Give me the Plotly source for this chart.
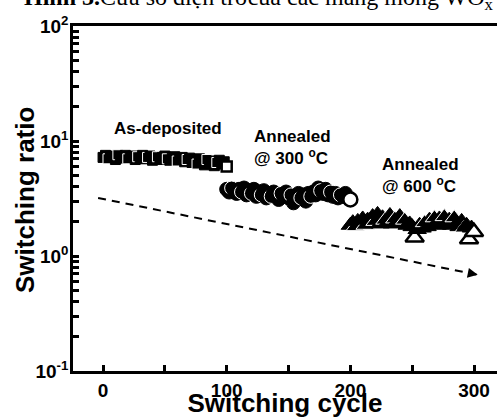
import plotly.graph_objects as go
import math

# ---- data ----
cycles_asdep = list(range(0, 101, 2))
ratio_asdep = [7.2, 7.5, 7.0, 7.4, 7.3, 6.9, 7.6, 7.1, 7.3, 7.5,
               7.0, 7.2, 7.4, 6.9, 7.3, 7.1, 7.5, 7.0, 7.2, 7.4,
               6.8, 7.1, 7.3, 6.9, 7.2, 7.4, 7.0, 6.8, 7.1, 7.3,
               6.7, 7.0, 7.2, 6.6, 6.9, 7.1, 6.5, 6.8, 6.3, 7.0,
               6.6, 6.2, 6.9, 6.4, 6.7, 6.1, 6.5, 6.8, 6.3, 6.6, 6.0]

cycles_300 = list(range(100, 201, 2))
ratio_300 = [3.8, 3.6, 3.9, 3.7, 3.5, 3.8, 3.6, 3.9, 3.4, 3.7,
             3.5, 3.8, 3.3, 3.6, 3.4, 3.7, 3.2, 3.5, 3.3, 3.6,
             3.4, 3.1, 3.5, 3.3, 3.6, 3.2, 3.4, 2.9, 3.3, 3.5,
             3.2, 3.4, 3.0, 3.5, 3.3, 3.6, 3.4, 3.9, 3.7, 3.5,
             3.8, 3.4, 3.6, 3.3, 3.5, 3.2, 3.4, 3.3, 3.5, 3.2, 3.1]

cycles_600 = list(range(200, 301, 2))
ratio_600 = [1.85, 1.95, 1.8, 2.0, 1.9, 2.1, 1.85, 2.05, 1.95, 2.2,
             2.0, 2.3, 1.9, 2.15, 2.05, 1.95, 2.25, 1.9, 2.1, 2.0,
             2.2, 1.95, 2.05, 1.85, 1.9, 1.8, 1.45,
             1.7, 1.85, 1.75, 1.95, 1.8, 2.05, 1.9, 2.15, 1.85, 2.1, 1.95, 2.2, 1.9,
             2.05, 1.85, 2.15, 1.9, 1.8, 2.0, 1.75, 1.85, 1.4, 1.75, 1.62]

# points drawn as open markers in the reference
open_asdep = [100]
open_300 = [200]
open_600 = [252, 296, 300]

trend_x = [-4, 303]
trend_y = [3.2, 0.686]

x_major = [0, 100, 200, 300]
x_minor = [50, 150, 250]
y_major = [0.1, 1, 10, 100]
y_major_text = ["10<sup>-1</sup>", "10<sup>0</sup>", "10<sup>1</sup>", "10<sup>2</sup>"]
y_minor = [m * 10 ** k for k in (-1, 0, 1) for m in range(2, 10)]

SANS = "Liberation Sans, Arial, sans-serif"


def marker_style(xs, open_pts):
    fill, lc, lw = [], [], []
    for i, x in enumerate(xs):
        if x in open_pts:
            fill.append("white"); lc.append("black"); lw.append(2.5)
        else:
            fill.append("black")
            lc.append("white" if i % 4 == 2 else "black")
            lw.append(1)
    return dict(color=fill, line=dict(color=lc, width=lw))


fig = go.Figure()

fig.add_trace(go.Scatter(
    x=trend_x, y=trend_y, mode="lines",
    line=dict(color="black", width=2, dash="8px,6px"),
    showlegend=False, hoverinfo="skip"))

fig.add_trace(go.Scatter(
    x=cycles_asdep, y=ratio_asdep, mode="markers", name="As-deposited",
    marker=dict(symbol="square", size=10, **marker_style(cycles_asdep, open_asdep)),
    showlegend=False))

fig.add_trace(go.Scatter(
    x=cycles_300, y=ratio_300, mode="markers", name="Annealed @ 300 °C",
    marker=dict(symbol="circle", size=14, **marker_style(cycles_300, open_300)),
    showlegend=False))

fig.add_trace(go.Scatter(
    x=cycles_600, y=ratio_600, mode="markers", name="Annealed @ 600 °C",
    marker=dict(symbol="triangle-up", size=16, **marker_style(cycles_600, open_600)),
    showlegend=False))

ann_font = dict(family=SANS, size=17, color="black", weight="bold")

fig.add_annotation(x=trend_x[1], y=math.log10(trend_y[1]), ax=-10, ay=-2,
                   text="", showarrow=True, arrowhead=2, arrowsize=1,
                   arrowwidth=2, arrowcolor="black", standoff=0)

fig.add_annotation(x=7, y=1.112, text="As-deposited", showarrow=False,
                   xanchor="left", yanchor="middle", font=ann_font)
fig.add_annotation(x=120.5, y=0.94, text="Annealed<br>@ 300 <sup>o</sup>C", showarrow=False,
                   xanchor="left", yanchor="middle", align="left", font=ann_font)
fig.add_annotation(x=224, y=0.70, text="Annealed<br>@ 600 <sup>o</sup>C", showarrow=False,
                   xanchor="left", yanchor="middle", align="left", font=ann_font)

# y-axis title
fig.add_annotation(xref="paper", yref="paper", x=-0.113, y=0.496, textangle=-90,
                   xanchor="center", yanchor="middle", showarrow=False,
                   text="Switching ratio",
                   font=dict(family=SANS, size=26, weight="bold", color="black"))

fig.add_annotation(xref="paper", yref="paper", x=-0.12, y=1, yshift=10,
                   xanchor="left", yanchor="bottom", showarrow=False,
                   text="<b>Hình 3.</b>Cửa sổ điện trởcủa các màng mỏng WO<sub>x</sub>",
                   font=dict(family="Liberation Serif, Times New Roman, serif", size=24, color="black"))

fig.update_layout(
    width=497, height=418,
    margin=dict(l=73, r=0, t=26, b=47),
    paper_bgcolor="white", plot_bgcolor="white",
    showlegend=False,
    font=dict(family=SANS, color="black"),
    xaxis=dict(
        automargin=False,
        range=[-24.3, 318.6], showgrid=False, zeroline=False,
        showline=True, linecolor="black", linewidth=2.5, mirror=True,
        tickmode="array", tickvals=x_major + x_minor,
        ticktext=[str(v) for v in x_major] + ["" for _ in x_minor],
        ticks="inside", ticklen=6, tickwidth=2.5, tickcolor="black",
        tickfont=dict(family=SANS, size=19, weight="bold"),
        title=dict(text="Switching cycle", standoff=6,
                   font=dict(family=SANS, size=26, weight="bold")),
    ),
    yaxis=dict(
        automargin=False,
        type="log", range=[-1, 2], showgrid=False, zeroline=False,
        showline=True, linecolor="black", linewidth=2.5,
        tickmode="array", tickvals=y_major + y_minor,
        ticktext=y_major_text + ["" for _ in y_minor],
        ticklabelstandoff=-2,
        ticks="inside", ticklen=6, tickwidth=2.5, tickcolor="black",
        tickfont=dict(family=SANS, size=19, weight="bold"),
    ),
)

fig.write_html("out.html")
